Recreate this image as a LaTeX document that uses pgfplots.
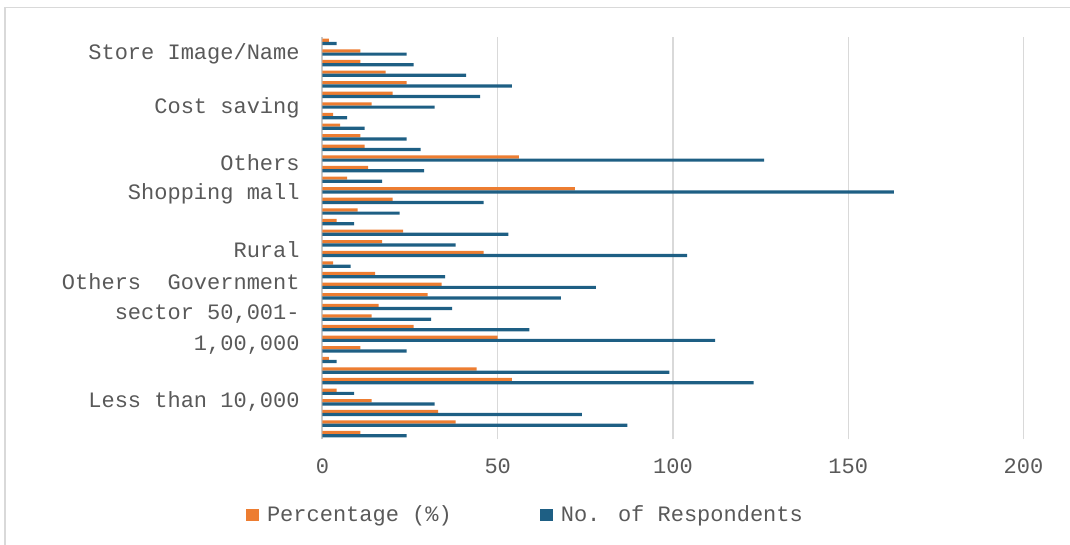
\documentclass[border=0pt]{standalone}
\usepackage{pgfplots}
\pgfplotsset{compat=1.18}
\usepackage{pgfplotstable}
\usepackage{fontspec}
\setmainfont{Liberation Mono}
\definecolor{orng}{HTML}{ED7D31}
\definecolor{blu}{HTML}{1E5F84}
\definecolor{txt}{HTML}{595959}
\definecolor{grd}{HTML}{D9D9D9}
\definecolor{axl}{HTML}{C8C8C8}

\pgfplotstableread{
row pct num
1 1.8 4
2 10.8 24
3 10.8 26
4 18 41
5 24 54
6 20 45
7 14 32
8 3 7
9 5 12
10 10.8 24
11 12 28
12 56 126
13 13 29
14 7 17
15 72 163
16 20 46
17 10 22
18 4 9
19 23 53
20 17 38
21 46 104
22 3 8
23 15 35
24 34 78
25 30 68
26 16 37
27 14 31
28 26 59
29 50 112
30 10.8 24
31 1.8 4
32 44 99
33 54 123
34 4 9
35 14 32
36 33 74
37 38 87
38 10.8 24
}\data

\begin{document}
\begin{tikzpicture}
\path[use as bounding box] (-161.25pt,-52.75pt) rectangle (373.75pt,219.75pt);
\draw[grd, line width=0.75pt] (-158.75pt,-60pt) -- (-158.75pt,216pt) -- (380pt,216pt);
\begin{axis}[
  at={(0,0)}, anchor=south west,
  scale only axis, width=350.5pt, height=201.45pt,
  xbar, bar width=1.6pt,
  xmin=0, xmax=200, ymin=0.5, ymax=38.5,
  xtick={0,50,100,150,200},
  ytick={36.92,31.74,26.64,23.65,18.44,15.38,12.34,9.41,4.13},
  yticklabels={Store Image/Name,Cost saving,Others,Shopping mall,Rural,Others\ \ Government,{sector 50,001-},{1,00,000},{Less than 10,000}},
  major tick length=0pt,
  axis line style={draw=none},
  xmajorgrids, grid style={grd, line width=0.75pt},
  extra x ticks={0}, extra x tick labels={},
  extra x tick style={grid style={axl, line width=1pt}},
  font=\fontsize{11}{13}\selectfont,
  /pgf/number format/assume math mode=true,
  tick label style={text=txt},
  yticklabel style={anchor=east, inner sep=0pt, xshift=-11.25pt},
  xticklabel style={anchor=north, inner sep=0pt, yshift=-9.4pt},
  legend columns=2,
  legend style={at={(-0.1091,-0.1874)}, anchor=west, draw=none, fill=none,
    inner sep=0pt, outer sep=0pt, nodes={inner sep=0pt, text=txt},
    /tikz/every even column/.append style={column sep=44pt}},
  sqleg/.style={legend image code/.code={\fill[##1] (0pt,-3pt) rectangle (6.5pt,3pt); \path (10.5pt,0pt);}},
]
\addplot[fill=orng, draw=none, bar shift=0.8pt, sqleg] table[x=pct, y expr=39-\thisrow{row}] {\data};
\addplot[fill=blu, draw=none, bar shift=-0.8pt, sqleg] table[x=num, y expr=39-\thisrow{row}] {\data};
\legend{Percentage (\%),No. of Respondents}
\end{axis}
\end{tikzpicture}
\end{document}
